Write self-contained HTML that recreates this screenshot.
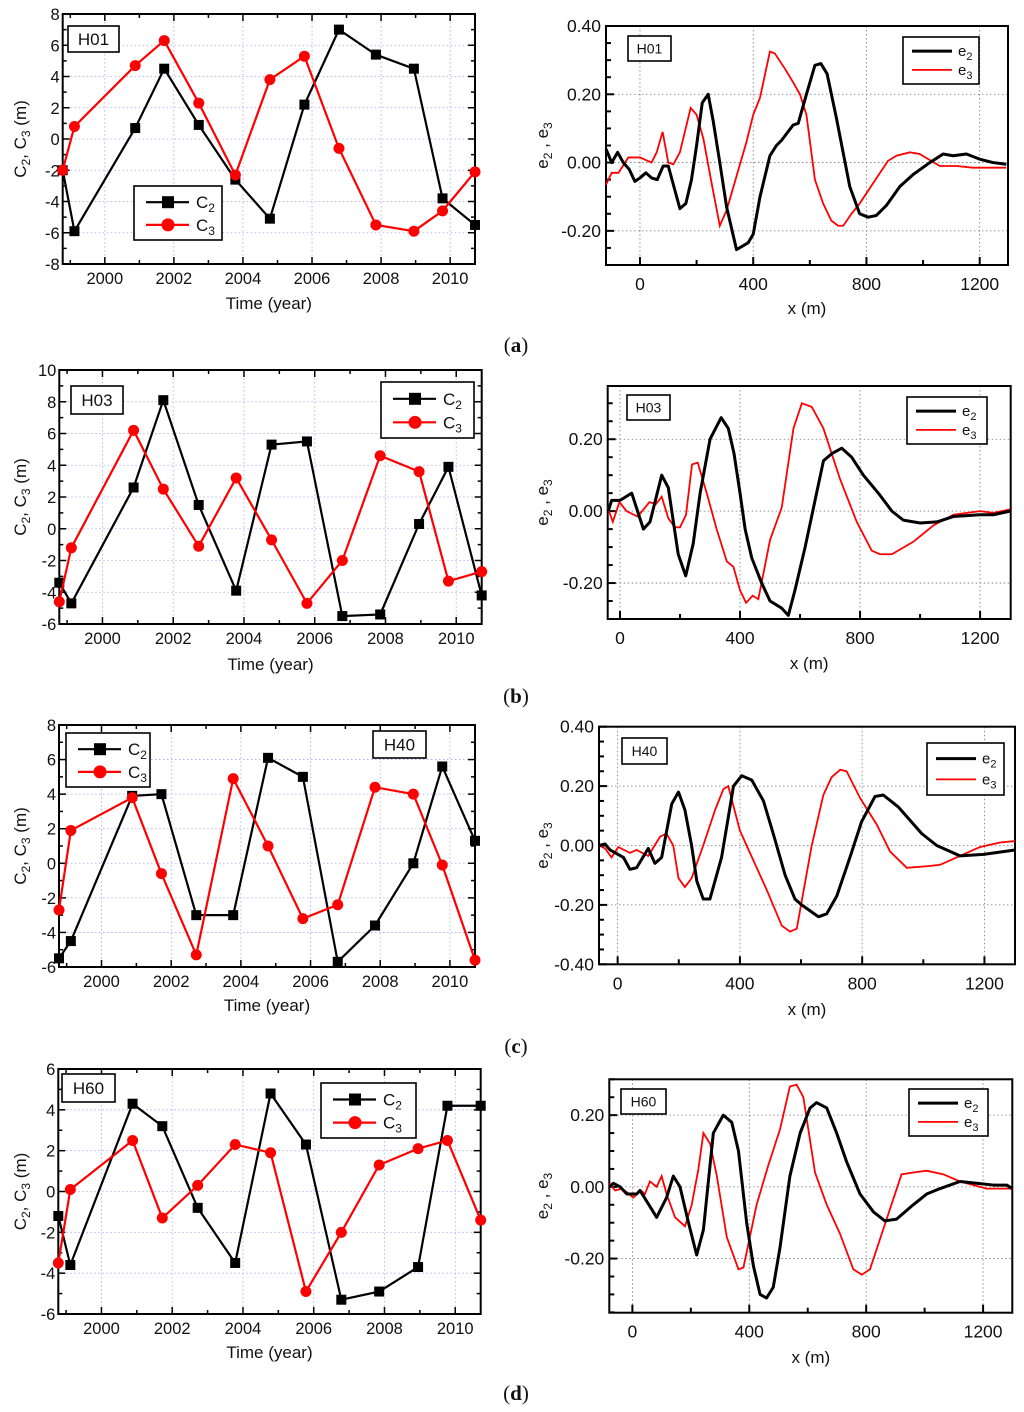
<!DOCTYPE html>
<html><head><meta charset="utf-8">
<style>
html,body{margin:0;padding:0;background:#fff;}
svg{display:block;font-family:"Liberation Sans",sans-serif;}
</style></head>
<body>
<svg id="fig" width="1024" height="1412" viewBox="0 0 1024 1412" xmlns="http://www.w3.org/2000/svg"></svg>
<script>
// ---------- data: time-series (left panels) ----------
const times = [1998.78,1999.12,2000.88,2001.72,2002.72,2003.78,2004.78,2005.78,2006.78,2007.85,2008.95,2009.78,2010.72];
const xTickYears = [2000,2002,2004,2006,2008,2010];
const aC2 = [-2,-5.9,0.7,4.5,0.9,-2.6,-5.1,2.2,7,5.4,4.5,-3.8,-5.5];
const aC3 = [-2,0.8,4.7,6.3,2.3,-2.3,3.8,5.3,-0.6,-5.5,-5.9,-4.6,-2.1];
const bC2 = [-3.4,-4.7,2.6,8.1,1.5,-3.9,5.3,5.5,-5.5,-5.4,0.3,3.9,-4.2];
const bC3 = [-4.6,-1.2,6.2,2.5,-1.1,3.2,-0.7,-4.7,-2.0,4.6,3.6,-3.3,-2.7];
const cC2 = [-5.5,-4.5,3.9,4.0,-3.0,-3.0,6.1,5.0,-5.7,-3.6,0,5.6,1.3];
const cC3 = [-2.7,1.9,3.8,-0.6,-5.3,4.9,1.0,-3.2,-2.4,4.4,4.0,-0.1,-5.6];
const dC2 = [-1.2,-3.6,4.3,3.2,-0.8,-3.5,4.8,2.3,-5.3,-4.9,-3.7,4.2,4.2];
const dC3 = [-3.5,0.1,2.5,-1.3,0.3,2.3,1.9,-4.9,-2.0,1.3,2.1,2.5,-1.4];

// ---------- data: eigenvectors (right panels) ----------
const aE2x = [-120,-100,-79,-59,-38,-18,0,21,41,61,82,100,141,162,182,200,220,241,259,282,306,341,382,400,424,459,482,500,541,559,588,618,639,661,694,741,776,806,835,871,918,965,1024,1071,1106,1153,1200,1247,1294];
const aE2 = [0.04,0,0.03,0,-0.02,-0.055,-0.045,-0.03,-0.045,-0.05,-0.01,-0.01,-0.135,-0.12,-0.05,0.05,0.175,0.2,0.12,0,-0.13,-0.255,-0.235,-0.21,-0.1,0.02,0.05,0.065,0.11,0.115,0.2,0.285,0.29,0.26,0.13,-0.07,-0.15,-0.16,-0.155,-0.125,-0.07,-0.035,0,0.025,0.02,0.025,0.01,0,-0.005];
const aE3x = [-120,-100,-76,-41,0,41,59,80,100,118,141,179,200,224,253,282,306,341,376,400,424,459,476,512,541,565,588,618,647,676,700,718,747,776,824,876,906,953,988,1059,1118,1176,1247,1294];
const aE3 = [-0.065,-0.03,-0.03,0.015,0.015,0,0.03,0.09,0,-0.005,0.03,0.16,0.14,0.07,-0.06,-0.185,-0.14,-0.04,0.06,0.14,0.19,0.325,0.32,0.275,0.235,0.2,0.14,-0.05,-0.12,-0.17,-0.185,-0.185,-0.15,-0.12,-0.06,0.005,0.02,0.03,0.025,-0.01,-0.01,-0.015,-0.015,-0.015];

const bE2x = [-39,-28,0,39,78,100,139,161,194,219,244,267,300,337,361,380,400,417,439,472,500,539,561,583,617,650,678,706,739,772,811,861,906,944,1000,1056,1111,1200,1244,1300];
const bE2 = [0,0.03,0.03,0.05,-0.05,-0.03,0.1,0.065,-0.12,-0.18,-0.09,0.05,0.2,0.26,0.23,0.16,0.05,-0.05,-0.13,-0.2,-0.25,-0.27,-0.29,-0.22,-0.1,0.03,0.14,0.16,0.175,0.15,0.1,0.05,0,-0.025,-0.033,-0.03,-0.015,-0.01,-0.01,0];
const bE3x = [-41,-24,-2,22,59,98,120,139,161,183,200,220,240,259,289,322,356,378,400,420,442,461,500,539,578,606,639,678,733,789,839,867,906,978,1044,1111,1200,1244,1300];
const bE3 = [0.01,-0.03,0.025,0,-0.015,0.025,0.02,0.04,-0.02,-0.045,-0.045,-0.01,0.13,0.135,0.05,-0.05,-0.14,-0.155,-0.22,-0.255,-0.235,-0.245,-0.08,0.01,0.23,0.3,0.29,0.23,0.09,-0.03,-0.11,-0.12,-0.12,-0.085,-0.04,-0.01,0,-0.005,0.005];

const cE2x = [-61,-41,-25,19,40,62,100,122,144,177,199,220,242,259,280,302,340,379,406,439,477,509,548,580,602,657,684,717,760,798,842,869,918,995,1044,1120,1197,1300];
const cE2 = [0,0.005,-0.015,-0.04,-0.08,-0.075,-0.01,-0.06,-0.04,0.14,0.18,0.12,0,-0.12,-0.18,-0.18,-0.04,0.2,0.235,0.22,0.15,0.04,-0.1,-0.18,-0.2,-0.24,-0.23,-0.17,-0.04,0.08,0.165,0.17,0.13,0.04,0,-0.035,-0.03,-0.015];
const cE3x = [-61,-41,-20,2,40,62,100,139,160,182,199,220,242,280,319,346,362,400,444,488,537,564,586,635,673,700,728,749,793,848,891,946,1011,1055,1120,1186,1251,1300];
const cE3 = [0,-0.01,-0.04,-0.005,-0.025,-0.015,-0.035,0.03,0.04,0,-0.11,-0.14,-0.11,0,0.12,0.19,0.2,0.05,-0.05,-0.15,-0.27,-0.29,-0.28,0,0.17,0.23,0.255,0.25,0.16,0.07,-0.02,-0.075,-0.07,-0.065,-0.035,-0.005,0.01,0.015];

const dE2x = [-79,-65,-42,-19,15,26,83,117,140,163,192,220,243,277,311,340,363,391,414,437,459,482,505,539,574,608,630,665,699,733,779,825,864,904,961,1007,1052,1121,1178,1235,1281,1300];
const dE2 = [0,0.01,0,-0.02,-0.02,-0.01,-0.085,-0.03,0.03,0,-0.1,-0.19,-0.12,0.15,0.2,0.18,0.1,-0.1,-0.22,-0.3,-0.31,-0.28,-0.17,0.03,0.15,0.22,0.235,0.22,0.15,0.07,-0.02,-0.07,-0.095,-0.09,-0.05,-0.02,-0.005,0.015,0.01,0.005,0.005,-0.005];
const dE3x = [-79,-59,-36,-19,3,29,43,60,83,100,117,146,180,203,226,243,266,289,323,363,380,425,465,505,539,562,585,625,665,710,756,785,813,870,921,961,1007,1064,1121,1212,1269,1300];
const dE3 = [0.01,-0.01,-0.005,-0.015,-0.03,-0.01,-0.02,0.015,0,0.03,-0.02,-0.085,-0.11,-0.05,0.05,0.15,0.12,0.03,-0.14,-0.23,-0.225,-0.05,0.06,0.16,0.28,0.285,0.25,0.04,-0.05,-0.13,-0.23,-0.245,-0.23,-0.09,0.035,0.04,0.045,0.035,0.015,-0.005,-0.005,-0.005];

const eXTicks = [0,400,800,1200];

// ---------- helpers ----------
const NS = "http://www.w3.org/2000/svg";
const svg = document.getElementById('fig');
function mk(tag, attrs, parent){
  const e = document.createElementNS(NS, tag);
  for (const k in attrs) e.setAttribute(k, attrs[k]);
  (parent||svg).appendChild(e);
  return e;
}
function lin(d0,d1,r0,r1){ return v => r0 + (v-d0)*(r1-r0)/(d1-d0); }
function fmt2(v){ return (Math.abs(v)<1e-9?0:v).toFixed(2); }

// ---------- left panel ----------
function leftPanel(id, f, ymin, ymax, c2, c3, hBox, hText, legBox, xlabY){
  const g = mk('g', {});
  
  
  const X = lin(1998.78, 2010.72, f.x0, f.x1);
  const Y = lin(ymin, ymax, f.y1, f.y0);
  for (let yr=2000; yr<=2010; yr+=2){
    const gl = mk('line',{x1:X(yr),x2:X(yr),y1:f.y0,y2:f.y1,stroke:'#a8a8f0','stroke-width':0.8,'stroke-dasharray':'1.5,2.5'},g);
     
  }
  for (let v=ymin+2; v<ymax; v+=2){
    const gl = mk('line',{x1:f.x0,x2:f.x1,y1:Y(v),y2:Y(v),stroke:'#a8a8f0','stroke-width':0.8,'stroke-dasharray':'1.5,2.5'},g);
     
  }
  for (let yr=1999; yr<=2010; yr++){
    const L = (yr%2===0)?7:4;
    mk('line',{x1:X(yr),x2:X(yr),y1:f.y1,y2:f.y1-L,stroke:'#000','stroke-width':1.5},g);
    mk('line',{x1:X(yr),x2:X(yr),y1:f.y0,y2:f.y0+L,stroke:'#000','stroke-width':1.5},g);
  }
  for (let v=ymin; v<=ymax; v+=1){
    const L = ((v-ymin)%2===0)?7:4;
    mk('line',{x1:f.x0,x2:f.x0+L,y1:Y(v),y2:Y(v),stroke:'#000','stroke-width':1.5},g);
    mk('line',{x1:f.x1,x2:f.x1-L,y1:Y(v),y2:Y(v),stroke:'#000','stroke-width':1.5},g);
  }
  xTickYears.forEach(yr=>{
    const t = mk('text',{x:X(yr),y:f.y1+20,'font-size':16.5,'text-anchor':'middle',fill:'#111'},g);
    t.textContent = yr;
     
  });
  for (let v=ymin; v<=ymax; v+=2){
    const t = mk('text',{x:f.x0-3,y:Y(v)+6,'font-size':16.5,'text-anchor':'end',fill:'#111'},g);
    t.textContent = v;
     
  }
  const fr = mk('rect',{x:f.x0,y:f.y0,width:f.x1-f.x0,height:f.y1-f.y0,fill:'none',stroke:'#000','stroke-width':2},g);
   
  function series(vals, color, marker, name){
    const pts = times.map((t,i)=>X(t)+','+Y(vals[i])).join(' ');
    const pl = mk('polyline',{points:pts,fill:'none',stroke:color,'stroke-width':2.2},g);
     
    times.forEach((t,i)=>{
      let m;
      if (marker==='sq') m = mk('rect',{x:X(t)-5,y:Y(vals[i])-5,width:10,height:10,fill:color},g);
      else m = mk('circle',{cx:X(t),cy:Y(vals[i]),r:5.5,fill:color},g);
       
    });
  }
  series(c2,'#000','sq','c2');
  series(c3,'#f00','ci','c3');
  const hb = mk('rect',{x:hBox[0],y:hBox[1],width:hBox[2],height:hBox[3],fill:'#fff',stroke:'#000','stroke-width':1.6},g);
   
  const ht = mk('text',{x:hBox[0]+hBox[2]/2,y:hBox[1]+hBox[3]/2+6,'font-size':17,'text-anchor':'middle',fill:'#111'},g);
  ht.textContent = hText;
   
  const lg = mk('g',{},g);
   
  const [lx,ly,lw,lh] = legBox;
  mk('rect',{x:lx,y:ly,width:lw,height:lh,fill:'#fff',stroke:'#000','stroke-width':1.6},lg);
  [['C','2','#000','sq'],['C','3','#f00','ci']].forEach((e,i)=>{
    const yy = ly + lh*(0.3 + i*0.42);
    const ent = mk('g',{},lg);
     
    mk('line',{x1:lx+12,x2:lx+55,y1:yy,y2:yy,stroke:e[2],'stroke-width':2.2},ent);
    if (e[3]==='sq') mk('rect',{x:lx+28,y:yy-6,width:12,height:12,fill:e[2]},ent);
    else mk('circle',{cx:lx+34,cy:yy,r:6.5,fill:e[2]},ent);
    const t = mk('text',{x:lx+62,y:yy+6,'font-size':17,fill:'#111'},ent);
    t.innerHTML = e[0]+'<tspan font-size="12" dy="4">'+e[1]+'</tspan>';
  });
  const xt = mk('text',{x:(f.x0+f.x1)/2,y:xlabY,'font-size':17,'text-anchor':'middle',fill:'#111'},g);
  xt.textContent = 'Time (year)';
   
  const cy = (f.y0+f.y1)/2;
  const yt = mk('text',{x:0,y:0,'font-size':17,'text-anchor':'middle',fill:'#111',transform:'translate(26,'+cy+') rotate(-90)'},g);
  yt.innerHTML = 'C<tspan font-size="12" dy="4">2</tspan><tspan dy="-4">, C</tspan><tspan font-size="12" dy="4">3</tspan><tspan dy="-4"> (m)</tspan>';
   
}

// ---------- right panel ----------
function rightPanel(id, f, xmin, xmax, ymin, ymax, yTicks, e2x, e2, e3x, e3, hBox, hText, legBox, xlabY){
  const g = mk('g', {});
  
  
  const X = lin(xmin, xmax, f.x0, f.x1);
  const Y = lin(ymin, ymax, f.y1, f.y0);
  eXTicks.forEach(v=>{
    const gl = mk('line',{x1:X(v),x2:X(v),y1:f.y0,y2:f.y1,stroke:'#777','stroke-width':0.8,'stroke-dasharray':'1.5,2.5'},g);
     
  });
  yTicks.forEach(v=>{
    const gl = mk('line',{x1:f.x0,x2:f.x1,y1:Y(v),y2:Y(v),stroke:'#777','stroke-width':0.8,'stroke-dasharray':'1.5,2.5'},g);
     
  });
  for (let v=0; v<=xmax; v+=200){
    const L = (v%400===0)?8:5;
    mk('line',{x1:X(v),x2:X(v),y1:f.y1,y2:f.y1-L,stroke:'#000','stroke-width':2},g);
  }
  for (let k=Math.ceil(ymin/0.05); k*0.05<=ymax+1e-9; k++){
    const v = k*0.05;
    const major = Math.abs(Math.round(v/0.2)*0.2 - v) < 1e-6;
    mk('line',{x1:f.x0,x2:f.x0+(major?8:5),y1:Y(v),y2:Y(v),stroke:'#000','stroke-width':2},g);
  }
  eXTicks.forEach(v=>{
    const t = mk('text',{x:X(v),y:f.y1+25,'font-size':17.5,'text-anchor':'middle',fill:'#111'},g);
    t.textContent = v;
     
  });
  yTicks.forEach(v=>{
    const t = mk('text',{x:f.x0-5,y:Y(v)+6,'font-size':17.5,'text-anchor':'end',fill:'#111'},g);
    t.textContent = fmt2(v);
     
  });
  const fr = mk('rect',{x:f.x0,y:f.y0,width:f.x1-f.x0,height:f.y1-f.y0,fill:'none',stroke:'#000','stroke-width':2},g);
   
  const p3 = mk('polyline',{points:e3x.map((x,i)=>X(x)+','+Y(e3[i])).join(' '),fill:'none',stroke:'#f00','stroke-width':1.8},g);
   
  const p2 = mk('polyline',{points:e2x.map((x,i)=>X(x)+','+Y(e2[i])).join(' '),fill:'none',stroke:'#000','stroke-width':3,'stroke-linejoin':'round'},g);
   
  const hb = mk('rect',{x:hBox[0],y:hBox[1],width:hBox[2],height:hBox[3],fill:'#fff',stroke:'#000','stroke-width':1.6},g);
   
  const ht = mk('text',{x:hBox[0]+hBox[2]/2,y:hBox[1]+hBox[3]/2+5,'font-size':14,'text-anchor':'middle',fill:'#111'},g);
  ht.textContent = hText;
   
  const lg = mk('g',{},g);
   
  const [lx,ly,lw,lh] = legBox;
  mk('rect',{x:lx,y:ly,width:lw,height:lh,fill:'#fff',stroke:'#000','stroke-width':1.6},lg);
  [['2','#000',3],['3','#f00',1.8]].forEach((e,i)=>{
    const yy = ly + lh*(0.3 + i*0.4);
    const ent = mk('g',{},lg);
     
    mk('line',{x1:lx+9,x2:lx+49,y1:yy,y2:yy,stroke:e[1],'stroke-width':e[2]},ent);
    const t = mk('text',{x:lx+55,y:yy+5,'font-size':15,fill:'#111'},ent);
    t.innerHTML = 'e<tspan font-size="11" dy="4">'+e[0]+'</tspan>';
  });
  const xt = mk('text',{x:(f.x0+f.x1)/2,y:xlabY,'font-size':17,'text-anchor':'middle',fill:'#111'},g);
  xt.textContent = 'x (m)';
   
  const cy = (f.y0+f.y1)/2;
  const yt = mk('text',{x:0,y:0,'font-size':17,'text-anchor':'middle',fill:'#111',transform:'translate(548,'+cy+') rotate(-90)'},g);
  yt.innerHTML = 'e<tspan font-size="12" dy="4">2</tspan><tspan dy="-4"> ,  e</tspan><tspan font-size="12" dy="4">3</tspan>';
   
}

// ---------- panels ----------
leftPanel('panel-a', {x0:62.7,x1:475,y0:14,y1:264}, -8, 8, aC2, aC3, [68,26,51,26], 'H01', [134,186,88,54], 309);
leftPanel('panel-b', {x0:59.3,x1:481.7,y0:370,y1:624}, -6, 10, bC2, bC3, [71,386,52,28], 'H03', [381,382,93,56], 670);
leftPanel('panel-c', {x0:59,x1:475,y0:725,y1:967}, -6, 8, cC2, cC3, [373,731,53,27], 'H40', [66,733,84,54], 1011);
leftPanel('panel-d', {x0:58.3,x1:480.7,y0:1069,y1:1314}, -6, 6, dC2, dC3, [62,1074,53,28], 'H60', [321,1083,95,55], 1358);

rightPanel('panel-a', {x0:606,x1:1008,y0:26,y1:265}, -120, 1300, -0.30, 0.40, [0.4,0.2,0,-0.2], aE2x, aE2, aE3x, aE3, [628,36,43,25], 'H01', [903,37,76,47], 314);
rightPanel('panel-b', {x0:607.7,x1:1010.7,y0:386,y1:619}, -41, 1302, -0.30, 0.348, [0.2,0,-0.2], bE2x, bE2, bE3x, bE3, [627,395,43,25], 'H03', [907,397,80,47], 669);
rightPanel('panel-c', {x0:599,x1:1015,y0:726.7,y1:964.3}, -61, 1300, -0.40, 0.40, [0.4,0.2,0,-0.2,-0.4], cE2x, cE2, cE3x, cE3, [622,738,45,26], 'H40', [927,743,77,52], 1015);
rightPanel('panel-d', {x0:609.3,x1:1012.3,y0:1079.3,y1:1312.7}, -79, 1300, -0.351, 0.30, [0.2,0,-0.2], dE2x, dE2, dE3x, dE3, [621,1089,45,25], 'H60', [909,1089,79,47], 1363);

// ---------- captions ----------
[['a',352],['b',703],['c',1053],['d',1400]].forEach(c=>{
  const t = mk('text',{x:516,y:c[1],'font-size':21,'text-anchor':'middle',fill:'#111','font-family':'Liberation Serif, serif'});
  t.innerHTML = '(<tspan font-weight="bold">'+c[0]+'</tspan>)';
  
  
});
</script>
</body></html>
